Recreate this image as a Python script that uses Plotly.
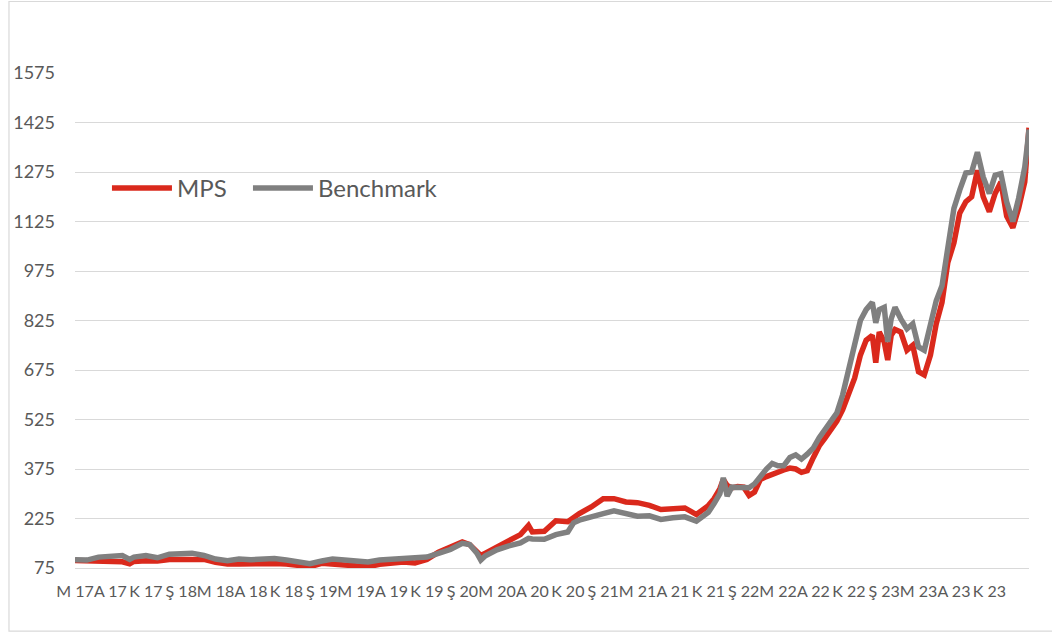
import plotly.graph_objects as go

dates = [
    "2017-05-01", "2017-06-01", "2017-07-01", "2017-08-01", "2017-09-01", "2017-09-20",
    "2017-10-01", "2017-11-01", "2017-12-01",
    "2018-01-01", "2018-02-01", "2018-03-01", "2018-04-01", "2018-05-01", "2018-06-01",
    "2018-07-01", "2018-08-01", "2018-09-01", "2018-10-01", "2018-11-01", "2018-12-01",
    "2019-01-01", "2019-02-01", "2019-03-01", "2019-04-01", "2019-05-01", "2019-06-01",
    "2019-07-01", "2019-08-01", "2019-09-01", "2019-10-01", "2019-11-01", "2019-12-01",
    "2020-01-01", "2020-02-01", "2020-02-20", "2020-03-10", "2020-03-20", "2020-04-01",
    "2020-05-01", "2020-06-01", "2020-07-01", "2020-07-22", "2020-08-01", "2020-09-01",
    "2020-10-01", "2020-11-01", "2020-11-16", "2020-12-01",
    "2021-01-01", "2021-02-01", "2021-03-01", "2021-04-01", "2021-05-01", "2021-06-01",
    "2021-07-01", "2021-08-01", "2021-09-01", "2021-10-01", "2021-11-01", "2021-11-16",
    "2021-12-01", "2021-12-10", "2021-12-20",
    "2022-01-01", "2022-01-16", "2022-02-01", "2022-02-15", "2022-03-01", "2022-03-16",
    "2022-04-01", "2022-04-16", "2022-05-01", "2022-05-16", "2022-06-01", "2022-06-16",
    "2022-07-01", "2022-07-16", "2022-08-01", "2022-08-16", "2022-09-01", "2022-09-16",
    "2022-10-01", "2022-10-16", "2022-11-01", "2022-11-16", "2022-12-01", "2022-12-16",
    "2023-01-01", "2023-01-10", "2023-01-19", "2023-02-01", "2023-02-10", "2023-02-19",
    "2023-03-01", "2023-03-16", "2023-04-01", "2023-04-16", "2023-05-01", "2023-05-16",
    "2023-06-01", "2023-06-16", "2023-07-01", "2023-07-16", "2023-08-01", "2023-08-16",
    "2023-09-01", "2023-09-16", "2023-10-01", "2023-10-16", "2023-11-01", "2023-11-16",
    "2023-12-01", "2023-12-16",
    "2024-01-01", "2024-01-16", "2024-02-01", "2024-02-07", "2024-02-12",
]

benchmark = [
    100, 99, 108, 111, 113, 101,
    108, 113, 106,
    117, 118, 120, 113, 102, 97,
    102, 100, 102, 104, 99, 93,
    88, 96, 102, 99, 96, 93,
    99, 101, 102, 103, 108, 119,
    131, 150, 146, 120, 99, 112,
    130, 142, 151, 165, 163, 162,
    176, 184, 212, 220,
    232, 240, 248, 238, 232, 233,
    222, 227, 230, 217, 244, 270,
    300, 348, 293,
    320, 318, 318, 318, 330, 353,
    375, 392, 385, 385, 410, 418,
    405, 420, 439, 470, 495, 515,
    545, 600, 675, 760, 825, 858,
    880, 818, 858, 865, 760, 830,
    865, 830, 800, 815, 745, 735,
    818, 885, 930, 1050, 1165, 1220,
    1272, 1275, 1335, 1260, 1210, 1265,
    1270, 1185,
    1125, 1195, 1290, 1350, 1404,
]

mps = [
    98, 97, 96, 97, 94, 88,
    95, 97, 96,
    101, 102, 102, 101, 92, 87,
    87, 89, 90, 89, 87, 84,
    79, 89, 87, 86, 83, 79,
    86, 91, 93, 90, 101, 123,
    140, 154, 146, 125, 113, 120,
    140, 156, 176, 204, 184, 186,
    218, 215, 228, 240,
    260, 285, 285, 275, 273, 265,
    252, 254, 257, 237, 264, 285,
    315, 343, 325,
    318, 322, 320, 295, 305, 343,
    352, 360, 368, 372, 378, 375,
    365, 370, 410, 445, 470, 495,
    520, 555, 600, 650, 720, 765,
    780, 697, 790, 760, 705, 780,
    798, 790, 735, 750, 670, 660,
    720, 815, 880, 1000, 1060, 1150,
    1185, 1200, 1280, 1200, 1155, 1210,
    1245, 1141,
    1106, 1165, 1245, 1320, 1409,
]

tick_dates = [
    "2017-05-01", "2017-08-01", "2017-11-01", "2018-02-01", "2018-05-01", "2018-08-01",
    "2018-11-01", "2019-02-01", "2019-05-01", "2019-08-01", "2019-11-01", "2020-02-01",
    "2020-05-01", "2020-08-01", "2020-11-01", "2021-02-01", "2021-05-01", "2021-08-01",
    "2021-11-01", "2022-02-01", "2022-05-01", "2022-08-01", "2022-11-01", "2023-02-01",
    "2023-05-01", "2023-08-01", "2023-11-01",
]
tick_labels = [
    "M 17", "A 17", "K 17", "Ş 18", "M 18", "A 18", "K 18", "Ş 19", "M 19", "A 19",
    "K 19", "Ş 20", "M 20", "A 20", "K 20", "Ş 21", "M 21", "A 21", "K 21", "Ş 22",
    "M 22", "A 22", "K 22", "Ş 23", "M 23", "A 23", "K 23",
]
y_ticks = [75, 225, 375, 525, 675, 825, 975, 1125, 1275, 1425, 1575]

FONT = "Lato, Calibri, Carlito, sans-serif"
TEXT = "#595959"

fig = go.Figure()
fig.add_trace(go.Scatter(x=dates, y=mps, name="MPS", mode="lines",
                         line=dict(color="#DA291C", width=5.5), legend="legend"))
fig.add_trace(go.Scatter(x=dates, y=benchmark, name="Benchmark", mode="lines",
                         line=dict(color="#808080", width=5.5), legend="legend2"))

legend_common = dict(orientation="h", xanchor="left", yanchor="middle",
                     font=dict(family=FONT, size=24, color=TEXT),
                     bgcolor="rgba(0,0,0,0)", itemwidth=60)

fig.update_layout(
    width=1052, height=634, autosize=False,
    margin=dict(l=75, r=23, t=73, b=66),
    paper_bgcolor="white", plot_bgcolor="white",
    font=dict(family=FONT, color=TEXT, size=17),
    showlegend=True,
    legend=dict(x=0.0335, y=0.767, **legend_common),
    legend2=dict(x=0.1813, y=0.767, **legend_common),
    xaxis=dict(type="date", range=["2017-05-01", "2024-02-12"], tickmode="array",
               tickvals=tick_dates, ticktext=tick_labels, tickangle=0, showgrid=False,
               showline=True, linecolor="#D9D9D9", linewidth=1.3, ticks="",
               zeroline=False, ticklabelstandoff=9,
               tickfont=dict(family=FONT, size=16, color=TEXT)),
    yaxis=dict(range=[75, 1575], tickmode="array", tickvals=y_ticks,
               showgrid=True, gridcolor="#D9D9D9", gridwidth=1.3, zeroline=False,
               showline=False, ticks="", ticklabelstandoff=19,
               tickfont=dict(family=FONT, size=18, color=TEXT)),
    shapes=[dict(type="rect", xref="paper", yref="paper", x0=-0.0692, x1=1.05,
                 y0=-0.1277, y1=1.1444, line=dict(color="#D9D9D9", width=1.2),
                 fillcolor="rgba(0,0,0,0)", layer="below")],
)

fig.write_html("out.html", config={"displayModeBar": False},
               post_script="document.body.style.margin='0';document.body.style.padding='0';")
